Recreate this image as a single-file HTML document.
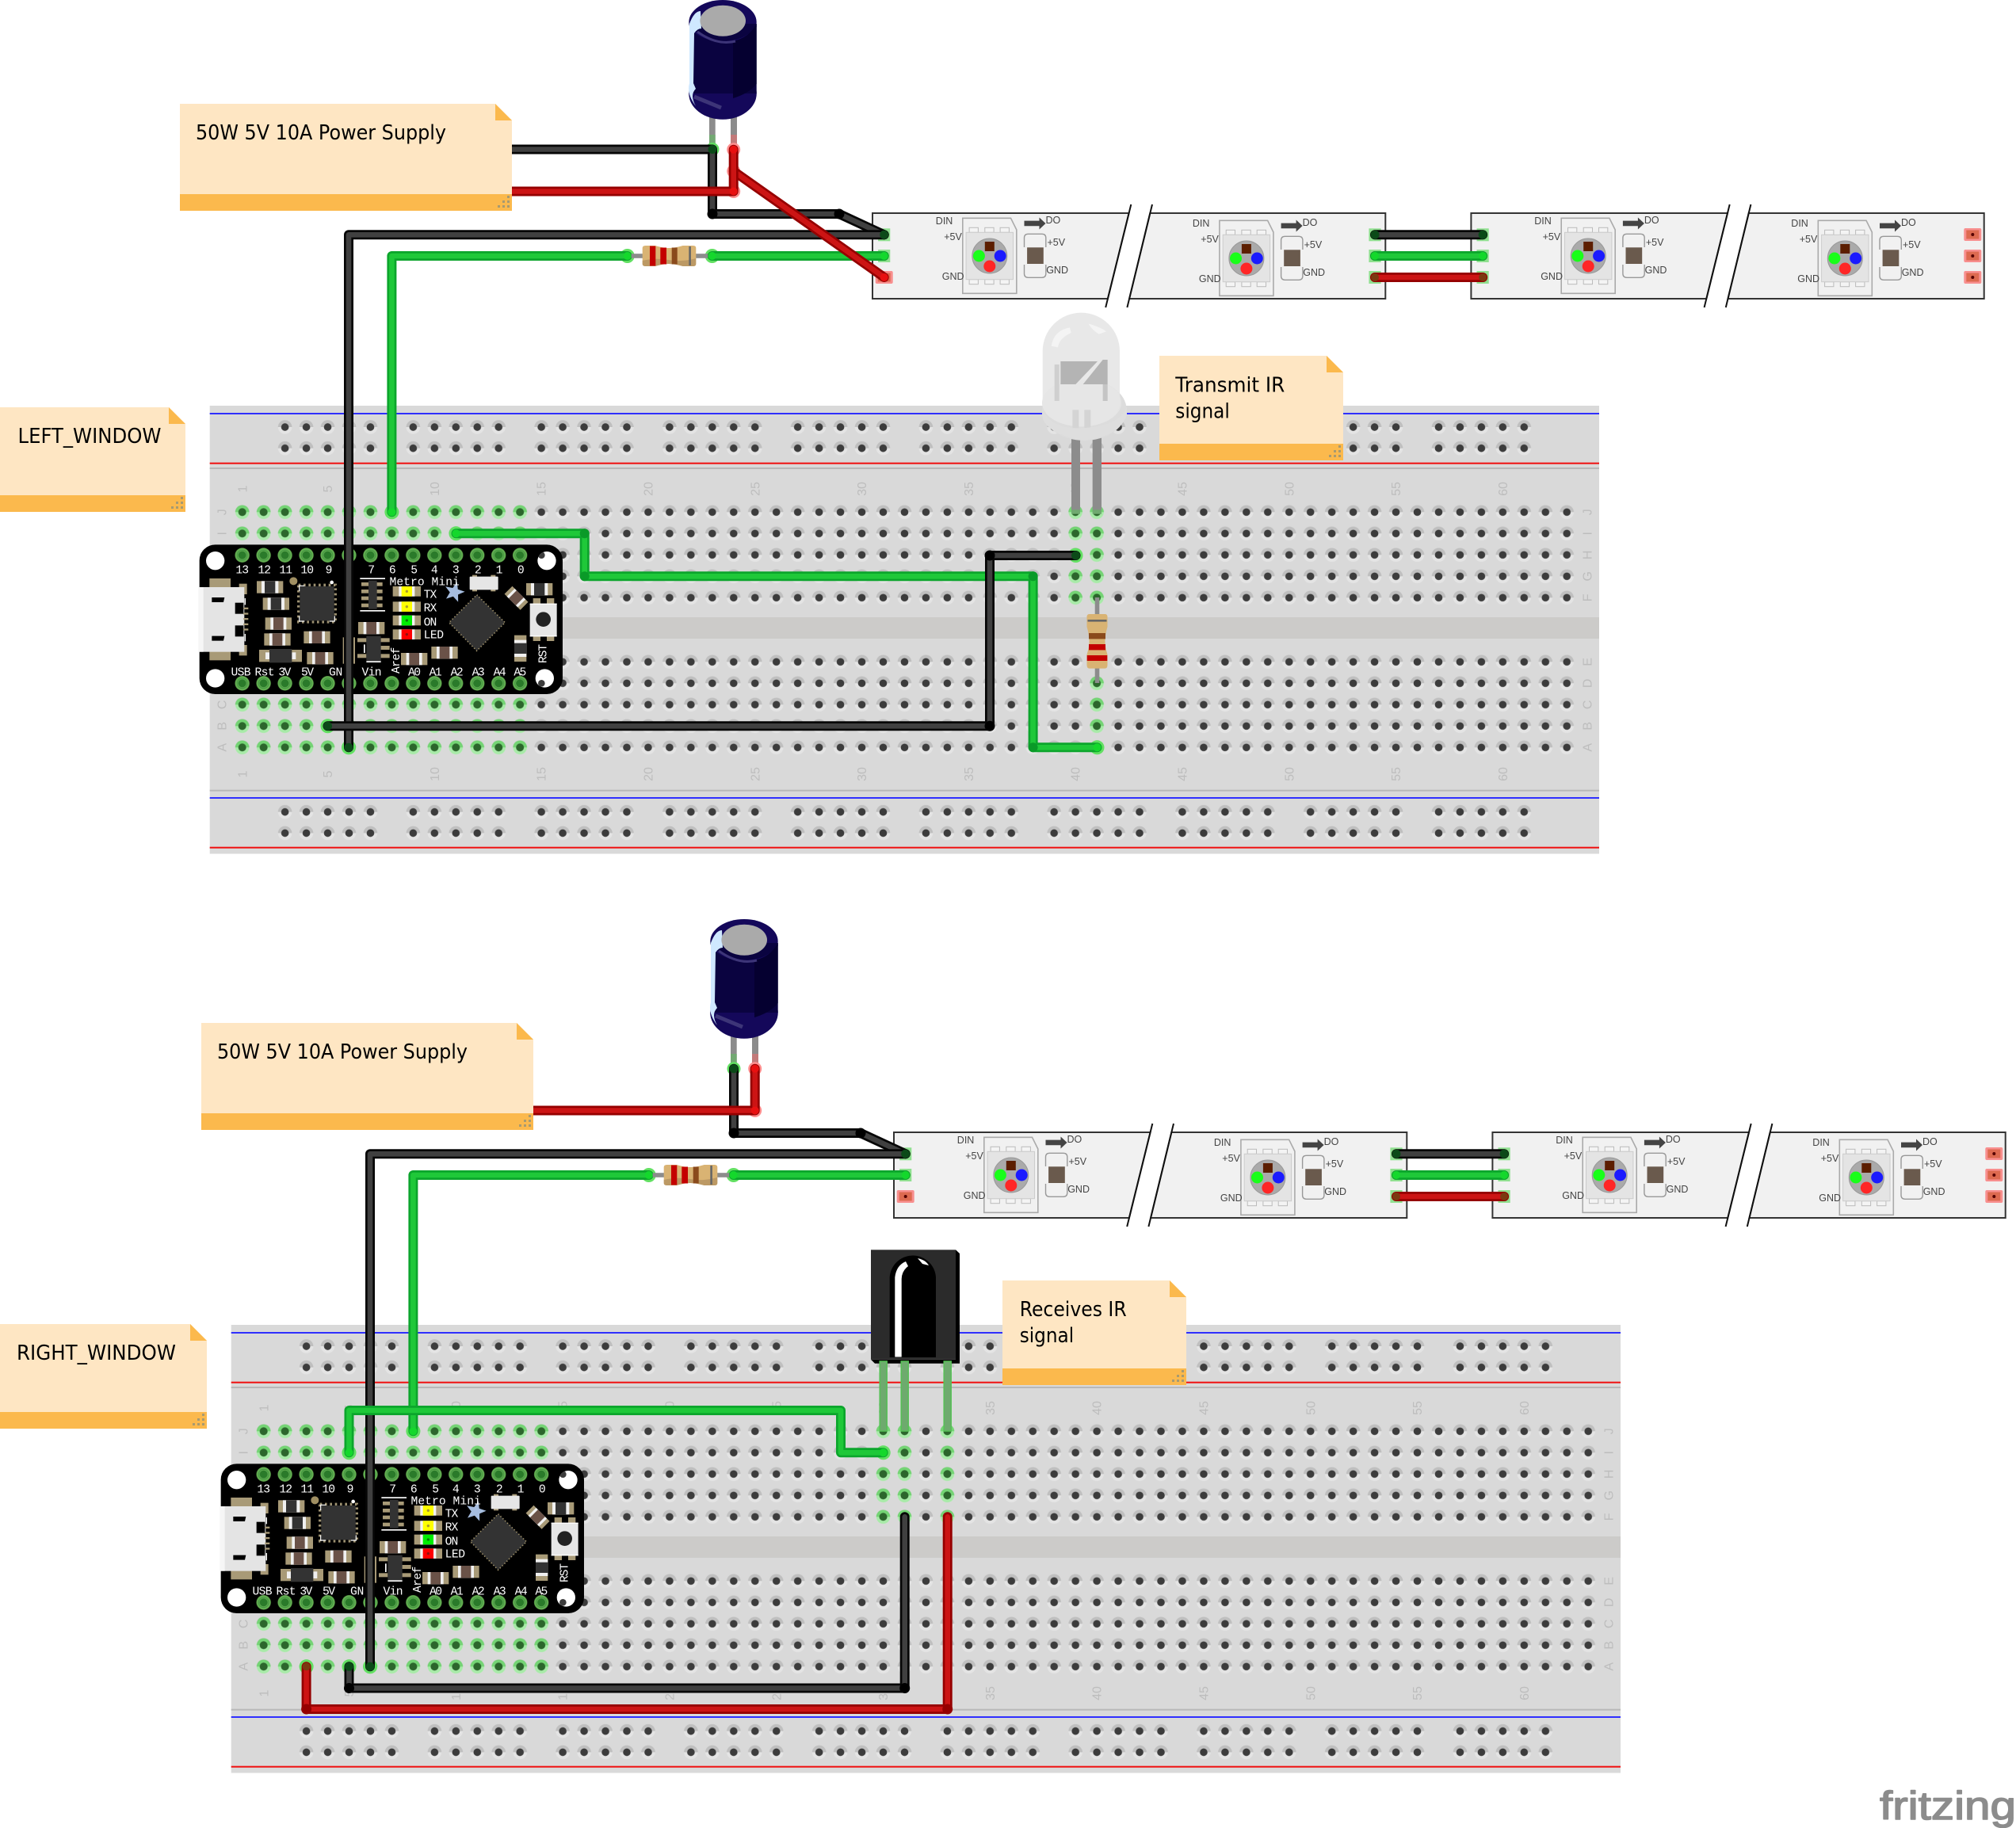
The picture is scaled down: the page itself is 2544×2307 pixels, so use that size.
<!DOCTYPE html>
<html><head><meta charset="utf-8"><title>Fritzing diagram</title>
<style>
html,body{margin:0;padding:0;background:#fff}
svg{display:block}
.w{fill:none;stroke-linejoin:round;stroke-linecap:round}
.ko{stroke:#060606;stroke-width:12}.ki{stroke:#404040;stroke-width:6.6}
.ro{stroke:#950000;stroke-width:12}.ri{stroke:#cc1414;stroke-width:6.6}
.go{stroke:#0ca52c;stroke-width:12}.gi{stroke:#1fc839;stroke-width:6.6}
.n text{font:16px "Liberation Sans",sans-serif;fill:#bdbdbd;text-anchor:middle}
.s text{font:12.5px "Liberation Sans",sans-serif;fill:#444}
.nt{font:26px "DejaVu Sans",sans-serif;fill:#000}
.m text{font:44px "Liberation Mono",monospace;fill:#fff}
</style></head><body>
<svg xmlns="http://www.w3.org/2000/svg" width="2544" height="2307" viewBox="0 0 2544 2307">
<defs>
<linearGradient id="hg" x1="0" y1="0" x2="0" y2="1"><stop offset=".5" stop-color="#bfbfbf"/><stop offset=".5" stop-color="#e4e4e4"/></linearGradient>
<linearGradient id="gg" x1="0" y1="0" x2="0" y2="1"><stop offset=".5" stop-color="#74d474"/><stop offset=".5" stop-color="#a8eaa8"/></linearGradient>
<pattern id="ph" patternUnits="userSpaceOnUse" x="292.22" y="632.8" width="26.96" height="27"><circle cx="13.48" cy="13.5" r="8.8" fill="url(#hg)"/><circle cx="13.48" cy="13.5" r="4.8" fill="#3c3c3c"/></pattern>
<pattern id="pg" patternUnits="userSpaceOnUse" x="292.22" y="632.8" width="26.96" height="27"><circle cx="13.48" cy="13.5" r="8.8" fill="url(#gg)"/><circle cx="13.48" cy="13.5" r="5" fill="#2c662c"/></pattern>
<pattern id="pr" patternUnits="userSpaceOnUse" x="346.14" y="525.65" width="161.76" height="26.7">
<g><circle cx="13.48" cy="13.35" r="8.8" fill="url(#hg)"/><circle cx="13.48" cy="13.35" r="4.8" fill="#3c3c3c"/>
<circle cx="40.44" cy="13.35" r="8.8" fill="url(#hg)"/><circle cx="40.44" cy="13.35" r="4.8" fill="#3c3c3c"/>
<circle cx="67.4" cy="13.35" r="8.8" fill="url(#hg)"/><circle cx="67.4" cy="13.35" r="4.8" fill="#3c3c3c"/>
<circle cx="94.36" cy="13.35" r="8.8" fill="url(#hg)"/><circle cx="94.36" cy="13.35" r="4.8" fill="#3c3c3c"/>
<circle cx="121.32" cy="13.35" r="8.8" fill="url(#hg)"/><circle cx="121.32" cy="13.35" r="4.8" fill="#3c3c3c"/></g></pattern>
<pattern id="pr2" patternUnits="userSpaceOnUse" x="346.14" y="1011.35" width="161.76" height="26.7">
<g><circle cx="13.48" cy="13.35" r="8.8" fill="url(#hg)"/><circle cx="13.48" cy="13.35" r="4.8" fill="#3c3c3c"/>
<circle cx="40.44" cy="13.35" r="8.8" fill="url(#hg)"/><circle cx="40.44" cy="13.35" r="4.8" fill="#3c3c3c"/>
<circle cx="67.4" cy="13.35" r="8.8" fill="url(#hg)"/><circle cx="67.4" cy="13.35" r="4.8" fill="#3c3c3c"/>
<circle cx="94.36" cy="13.35" r="8.8" fill="url(#hg)"/><circle cx="94.36" cy="13.35" r="4.8" fill="#3c3c3c"/>
<circle cx="121.32" cy="13.35" r="8.8" fill="url(#hg)"/><circle cx="121.32" cy="13.35" r="4.8" fill="#3c3c3c"/></g></pattern>
<pattern id="pp" patternUnits="userSpaceOnUse" x="186.56" y="72" width="80.88" height="100"><circle cx="40.44" cy="50" r="27.5" fill="#62ad50"/><circle cx="40.44" cy="50" r="15" fill="#2a7a2a"/><circle cx="40.44" cy="50" r="19" fill="none" stroke="#3f9440" stroke-width="3"/></pattern>
<pattern id="pp2" patternUnits="userSpaceOnUse" x="186.56" y="557" width="80.88" height="100"><circle cx="40.44" cy="50" r="27.5" fill="#62ad50"/><circle cx="40.44" cy="50" r="15" fill="#2a7a2a"/><circle cx="40.44" cy="50" r="19" fill="none" stroke="#3f9440" stroke-width="3"/></pattern>
<clipPath id="c1"><circle cx="1380" cy="143" r="35"/></clipPath>
<clipPath id="c2"><circle cx="1372" cy="588" r="35"/></clipPath>

<g id="board">
<rect x="264.7" y="512" width="1753.3" height="565.5" fill="#d9d9d9"/>
<rect x="264.7" y="521" width="1753.3" height="2" fill="#2f2fff"/>
<rect x="264.7" y="583.7" width="1753.3" height="2" fill="#f01010"/>
<rect x="264.7" y="590" width="1753.3" height="2" fill="#b8b8b8"/>
<rect x="264.7" y="779" width="1753.3" height="27" fill="#cccbc9"/>
<rect x="264.7" y="996.7" width="1753.3" height="2" fill="#b8b8b8"/>
<rect x="264.7" y="1006" width="1753.3" height="2" fill="#2f2fff"/>
<rect x="264.7" y="1068.7" width="1753.3" height="2" fill="#f01010"/>
<rect x="346.14" y="525.65" width="1590" height="53.4" fill="url(#pr)"/>
<rect x="346.14" y="1011.35" width="1590" height="53.4" fill="url(#pr2)"/>
<rect x="292.22" y="632.8" width="1698.48" height="135" fill="url(#ph)"/>
<rect x="292.22" y="821.8" width="1698.48" height="135" fill="url(#ph)"/>
<rect x="292.22" y="632.8" width="377.44" height="54" fill="url(#pg)"/>
<rect x="292.22" y="875.8" width="377.44" height="81" fill="url(#pg)"/>
</g>

<g id="smd"><rect width="100" height="46" fill="#a89a77"/><rect x="20" width="60" height="46" fill="#f0f0f0"/><rect x="31" width="38" height="46" fill="#6a5248"/></g>
<g id="smk"><rect width="100" height="46" fill="#a89a77"/><rect x="18" width="64" height="46" fill="#f0f0f0"/><rect x="30" width="40" height="46" fill="#333"/></g>

<g id="metro">
<rect x="65" y="82" width="1375" height="566" rx="60" fill="#000"/>
<circle cx="125" cy="143" r="35" fill="#fff"/><circle cx="1380" cy="143" r="35" fill="#fff"/><circle cx="125" cy="588" r="35" fill="#fff"/><circle cx="1372" cy="588" r="35" fill="#fff"/>
<circle cx="1360" cy="122" r="13" fill="#3c3c3c" clip-path="url(#c1)"/><circle cx="1360" cy="607" r="13" fill="#3c3c3c" clip-path="url(#c2)"/>
<rect x="186.56" y="72" width="1132.3" height="100" fill="url(#pp)"/>
<rect x="186.56" y="557" width="1132.3" height="100" fill="url(#pp2)"/>
<rect x="103" y="210" width="80" height="36" fill="#a89a77"/><rect x="103" y="485" width="80" height="35" fill="#a89a77"/>
<rect x="215" y="230" width="30" height="40" fill="#a89a77"/><rect x="215" y="462" width="30" height="40" fill="#a89a77"/>
<rect x="62" y="243" width="173" height="245" fill="#e4e4e4"/><rect x="62" y="243" width="18" height="245" fill="#f6f6f6"/>
<path d="M112 282h48l-4 18h-44zM112 428h48l-4 18h-44z" fill="#000"/>
<rect x="200" y="302" width="32" height="42" fill="#000"/><rect x="200" y="388" width="32" height="42" fill="#000"/>
<g fill="#a89a77"><rect x="232" y="320" width="18" height="7"/><rect x="232" y="340" width="18" height="7"/><rect x="232" y="360" width="18" height="7"/><rect x="232" y="380" width="18" height="7"/><rect x="232" y="400" width="18" height="7"/></g>
<rect x="236" y="285" width="4" height="25" fill="#fff"/><rect x="236" y="420" width="4" height="28" fill="#fff"/>
<use href="#smk" x="282" y="220"/><use href="#smk" x="305" y="283"/><use href="#smd" x="314" y="358"/><use href="#smd" x="310" y="418"/><use href="#smd" x="460" y="410"/><use href="#smd" x="472" y="489"/>
<rect x="291" y="480" width="162" height="46" fill="#a89a77"/><rect x="315" y="490" width="15" height="26" fill="#f0f0f0"/><rect x="415" y="490" width="15" height="26" fill="#f0f0f0"/><rect x="330" y="477" width="85" height="52" fill="#333"/>
<circle cx="421" cy="220" r="15" fill="#a08f62"/><circle cx="566" cy="225" r="7" fill="#fff"/>
<rect x="440" y="235" width="140" height="140" fill="none" stroke="#9c9070" stroke-width="10" stroke-dasharray="8 11"/>
<rect x="445" y="240" width="130" height="130" fill="#333"/>
<path d="M443 258v-20h20M577 352v20h-20M443 352v20h20" fill="none" stroke="#fff" stroke-width="3.5"/>
<rect x="608" y="433" width="46" height="100" fill="#a89a77"/>
<g fill="#a89a77"><rect x="678" y="225" width="80" height="14"/><rect x="678" y="252" width="80" height="14"/><rect x="678" y="278" width="80" height="14"/><rect x="678" y="305" width="80" height="14"/></g>
<rect x="705" y="218" width="32" height="108" fill="#333"/>
<rect x="673" y="208" width="95" height="5" fill="#fff"/><rect x="673" y="330" width="95" height="5" fill="#fff"/>
<use href="#smd" x="666" y="375"/>
<g fill="#a89a77"><rect x="663" y="436" width="34" height="15"/><rect x="750" y="436" width="35" height="15"/><rect x="750" y="465" width="35" height="15"/><rect x="750" y="496" width="35" height="15"/><rect x="663" y="496" width="34" height="15"/></g>
<rect x="697" y="428" width="55" height="95" fill="#333"/><rect x="697" y="523" width="55" height="5" fill="#fff"/><rect x="687" y="460" width="5" height="32" fill="#fff"/>
<g><rect x="797" y="240" width="106" height="38" fill="#a89a77"/><rect x="820" y="240" width="60" height="38" fill="#f4f4f4"/><rect x="830" y="240" width="40" height="38" fill="#ff0"/><circle cx="850" cy="259" r="5" fill="#a89a30"/></g>
<g transform="translate(0,58)"><rect x="797" y="240" width="106" height="38" fill="#a89a77"/><rect x="820" y="240" width="60" height="38" fill="#f4f4f4"/><rect x="830" y="240" width="40" height="38" fill="#ff0"/><circle cx="850" cy="259" r="5" fill="#a89a30"/></g>
<g transform="translate(0,110)"><rect x="797" y="240" width="106" height="38" fill="#a89a77"/><rect x="820" y="240" width="60" height="38" fill="#f4f4f4"/><rect x="830" y="240" width="40" height="38" fill="#0e0"/><circle cx="850" cy="259" r="5" fill="#0a7a0a"/></g>
<g transform="translate(0,163)"><rect x="797" y="240" width="106" height="38" fill="#a89a77"/><rect x="820" y="240" width="60" height="38" fill="#f4f4f4"/><rect x="830" y="240" width="40" height="38" fill="#f00"/><circle cx="850" cy="259" r="5" fill="#901010"/></g>
<use href="#smd" x="828" y="492"/><use href="#smd" x="943" y="468"/><use href="#smk" x="1302" y="228"/>
<g transform="translate(1303,425) rotate(90)"><use href="#smk"/></g>
<g transform="translate(1248,252) rotate(45)"><rect x="-8" y="-10" width="85" height="42" fill="#a89a77"/><rect x="5" y="-10" width="58" height="42" fill="#f0f0f0"/><rect x="15" y="-10" width="38" height="42" fill="#6a5248"/></g>
<rect x="1098" y="197" width="18" height="62" fill="#a89a77"/><rect x="1168" y="197" width="18" height="62" fill="#a89a77"/>
<rect x="1088" y="203" width="108" height="50" rx="3" fill="#e6e6e6"/>
<polygon points="1115,272 1222,377 1115,484 1010,377" fill="#333" stroke="#a0926a" stroke-width="5" stroke-dasharray="4 8"/>
<polygon transform="rotate(15 1030 262)" points="1030,222 1040,248 1068,250 1046,267 1053.5,294 1030,279 1006.5,294 1014,267 992,250 1020,248" fill="#a6bddf"/>
<g fill="#a89a77"><rect x="1328" y="285" width="28" height="24"/><rect x="1380" y="285" width="28" height="24"/><rect x="1328" y="425" width="28" height="22"/><rect x="1380" y="425" width="28" height="22"/></g>
<rect x="1316" y="305" width="102" height="125" fill="#e6e6e6"/><rect x="1316" y="305" width="102" height="4" fill="#fff"/><rect x="1316" y="426" width="102" height="4" fill="#fff"/>
<circle cx="1367" cy="365" r="28" fill="#222"/>
</g>

<g id="chip">
<path d="M-34 -47.7H26.7L34 -33V47.3H-34Z" fill="#f1f1f1" stroke="#aaa" stroke-width="1.6"/>
<g fill="#f4f4f4" stroke="#bbb"><rect x="-25.7" y="-35.7" width="11.3" height="6"/><rect x="-6" y="-35.7" width="11.3" height="6"/><rect x="13.3" y="-35.7" width="11.3" height="6"/><rect x="-25.7" y="29.7" width="11.3" height="6"/><rect x="-6" y="29.7" width="11.3" height="6"/><rect x="13.3" y="29.7" width="11.3" height="6"/></g>
<rect x="-29.7" y="-29.7" width="59.4" height="59.4" fill="#e4e4e4" stroke="#ccc"/>
<circle r="22" fill="#aaa" stroke="#999"/>
<circle cx="-13.4" r="7.5" fill="#19ff19"/><circle cx="13.4" r="7.5" fill="#1a1aff"/><circle cy="13" r="7.5" fill="#ff2626"/>
<rect x="-6" y="-18" width="12" height="12" fill="#5c1e00"/>
<path d="M43.7 -44.4H62.7V-48.5L70.7 -41L62.7 -33.5V-37.7H43.7Z" fill="#444"/>
<path d="M43.7 -11V-22.7Q43.7 -27.7 48.7 -27.7H66Q71 -27.7 71 -22.7V-11M43.7 11V22.3Q43.7 27.3 48.7 27.3H66Q71 27.3 71 22.3V11" fill="none" stroke="#999" stroke-width="1.4"/>
<rect x="47.3" y="-10.7" width="20.7" height="20.7" fill="#6a5a4d"/>
</g>

<g id="gpad"><rect x="-7.6" y="-8" width="15.2" height="16" fill="#90e090"/><circle r="6" fill="#7a8050"/></g>
<g id="rpad"><rect x="-11" y="-8" width="22" height="16" fill="#f88f8f" rx="2"/><rect x="-8" y="-5.5" width="16" height="11" fill="#dd6a50"/><circle r="2" fill="#500"/></g>

<g id="seg">
<polygon points="1101,269 1424.6,269 1397.9,377 1101,377" fill="#f1f1f1" stroke="#333" stroke-width="2"/>
<polygon points="1451.3,269 1748.3,269 1748.3,377 1425.1,377" fill="#f1f1f1" stroke="#333" stroke-width="2"/>
<path d="M1427.3 258L1395.2 388M1454 258L1422.4 388" stroke="#111" stroke-width="2" fill="none"/>
<use href="#chip" transform="translate(1248.8,323)"/><use href="#chip" transform="translate(1572.9,326)"/>
</g>

<g id="cap">
<rect x="895" y="140" width="7.7" height="50" fill="#8c8c8c"/><rect x="922" y="140" width="8" height="50" fill="#8c8c8c"/>
<rect x="895" y="170" width="7.7" height="18" fill="#72a872"/><rect x="922" y="170" width="8" height="18" fill="#c27a7a"/>
<ellipse cx="912" cy="118" rx="42.8" ry="32.7" fill="#14085a"/>
<ellipse cx="912" cy="28" rx="42.7" ry="28" fill="#14085a"/>
<rect x="871.5" y="30" width="83.2" height="88" fill="#0a0340"/>
<path d="M871.5 30A42.7 28 0 0 0 954.7 30V34A42.7 24 0 0 1 871.5 34Z" fill="#14085a"/>
<path d="M925 52Q945 48 954.7 30V106Q945 118 925 124Z" fill="#050030"/>
<path d="M876 122Q905 134 910 136" fill="none" stroke="#3d3578" stroke-width="5"/>
<path d="M880 40Q905 58 928 52" fill="none" stroke="#3d3578" stroke-width="3"/>
<path d="M870 30Q876 14 884 14L885 36Q880 36 876 42L875 105L878 112Q870 120 878 134Q866 118 870 105Z" fill="#cfe8ff"/>
<ellipse cx="912.2" cy="26.2" rx="28.8" ry="19.5" fill="#aaa"/>
</g>

<g id="res">
<rect x="0" y="-2.8" width="96.5" height="5.6" fill="#8c8c8c"/>
<path d="M14 -10Q14 -13 18 -13H30Q40 -10 47 -10Q55 -10 65 -13H78Q81.6 -13 81.6 -10V10Q81.6 13 78 13H65Q55 10 47 10Q40 10 30 13H18Q14 13 14 10Z" fill="#d9b373"/>
<path d="M14 6Q30 2 47 5T81.6 3V10Q81.6 13 78 13H65Q55 10 47 10Q40 10 30 13H18Q14 13 14 10Z" fill="#a8875a" opacity=".6"/>
<rect x="23.3" y="-12.5" width="7.3" height="25" fill="#c40000"/>
<rect x="36.6" y="-10.5" width="7.7" height="21" fill="#c40000"/>
<rect x="51" y="-10.5" width="7" height="21" fill="#8a4a1c"/>
<rect x="72.6" y="-12" width="2.6" height="24" fill="#666"/>
</g>
</defs>

<!-- ================= LEFT ================= -->
<use href="#board"/>
<rect x="1343.66" y="632.8" width="53.92" height="135" fill="url(#pg)"/>
<rect x="1370.62" y="821.8" width="26.96" height="135" fill="url(#pg)"/>
<g class="n">
<text transform="translate(311.3,617) rotate(-90)">1</text><text transform="translate(419.1,617) rotate(-90)">5</text><text transform="translate(553.9,617) rotate(-90)">10</text><text transform="translate(688.7,617) rotate(-90)">15</text><text transform="translate(823.5,617) rotate(-90)">20</text><text transform="translate(958.3,617) rotate(-90)">25</text><text transform="translate(1093.1,617) rotate(-90)">30</text><text transform="translate(1227.9,617) rotate(-90)">35</text><text transform="translate(1362.7,617) rotate(-90)">40</text><text transform="translate(1497.5,617) rotate(-90)">45</text><text transform="translate(1632.3,617) rotate(-90)">50</text><text transform="translate(1767.1,617) rotate(-90)">55</text><text transform="translate(1901.9,617) rotate(-90)">60</text>
<text transform="translate(311.3,977) rotate(-90)">1</text><text transform="translate(419.1,977) rotate(-90)">5</text><text transform="translate(553.9,977) rotate(-90)">10</text><text transform="translate(688.7,977) rotate(-90)">15</text><text transform="translate(823.5,977) rotate(-90)">20</text><text transform="translate(958.3,977) rotate(-90)">25</text><text transform="translate(1093.1,977) rotate(-90)">30</text><text transform="translate(1227.9,977) rotate(-90)">35</text><text transform="translate(1362.7,977) rotate(-90)">40</text><text transform="translate(1497.5,977) rotate(-90)">45</text><text transform="translate(1632.3,977) rotate(-90)">50</text><text transform="translate(1767.1,977) rotate(-90)">55</text><text transform="translate(1901.9,977) rotate(-90)">60</text>
<text transform="translate(285.6,646.3) rotate(-90)">J</text><text transform="translate(285.6,673.3) rotate(-90)">I</text><text transform="translate(285.6,700.3) rotate(-90)">H</text><text transform="translate(285.6,727.3) rotate(-90)">G</text><text transform="translate(285.6,754.3) rotate(-90)">F</text><text transform="translate(285.6,835.3) rotate(-90)">E</text><text transform="translate(285.6,862.3) rotate(-90)">D</text><text transform="translate(285.6,889.3) rotate(-90)">C</text><text transform="translate(285.6,916.3) rotate(-90)">B</text><text transform="translate(285.6,943.3) rotate(-90)">A</text>
<text transform="translate(2008.6,646.3) rotate(-90)">J</text><text transform="translate(2008.6,673.3) rotate(-90)">I</text><text transform="translate(2008.6,700.3) rotate(-90)">H</text><text transform="translate(2008.6,727.3) rotate(-90)">G</text><text transform="translate(2008.6,754.3) rotate(-90)">F</text><text transform="translate(2008.6,835.3) rotate(-90)">E</text><text transform="translate(2008.6,862.3) rotate(-90)">D</text><text transform="translate(2008.6,889.3) rotate(-90)">C</text><text transform="translate(2008.6,916.3) rotate(-90)">B</text><text transform="translate(2008.6,943.3) rotate(-90)">A</text>
</g>
<g transform="translate(230,660) scale(.33333)"><use href="#metro"/>
<g class="m" text-anchor="middle">
<text x="227" y="190" textLength="50">13</text><text x="311" y="190" textLength="50">12</text><text x="392" y="190" textLength="50">11</text><text x="473" y="190" textLength="50">10</text><text x="555" y="190">9</text><text x="716" y="190">7</text><text x="796" y="190">6</text><text x="878" y="190">5</text><text x="955" y="190">4</text><text x="1036" y="190">3</text><text x="1120" y="190">2</text><text x="1200" y="190">1</text><text x="1282" y="190">0</text>
<text x="917" y="235" textLength="265">Metro Mini</text><text x="939" y="283" textLength="50">TX</text><text x="939" y="335" textLength="50">RX</text><text x="939" y="388" textLength="50">ON</text><text x="952" y="436" textLength="76">LED</text>
<text x="222" y="578" textLength="75">USB</text><text x="312" y="578" textLength="75">Rst</text><text x="388" y="578" textLength="48">3V</text><text x="474" y="578" textLength="48">5V</text><text x="581" y="578" textLength="52">GN</text><text x="717" y="578" textLength="75">Vin</text>
<text x="879" y="578" textLength="48">A0</text><text x="959" y="578" textLength="48">A1</text><text x="1040" y="578" textLength="48">A2</text><text x="1121" y="578" textLength="48">A3</text><text x="1202" y="578" textLength="48">A4</text><text x="1279" y="578" textLength="48">A5</text>
<text transform="translate(822,520) rotate(-90)" textLength="100">Aref</text><text transform="translate(1378,495) rotate(-90)" textLength="72">RST</text>
</g></g>

<use href="#seg"/><use href="#seg" x="755.4"/>
<g class="s"><g transform="translate(1248.8,323)"><text x="-68" y="-40">DIN</text><text x="-57.6" y="-20">+5V</text><text x="-60" y="30">GND</text><text x="70.7" y="-41">DO</text><text x="72.7" y="-13">+5V</text><text x="71.4" y="22">GND</text></g>
<g transform="translate(1572.9,326)"><text x="-68" y="-40">DIN</text><text x="-57.6" y="-20">+5V</text><text x="-60" y="30">GND</text><text x="70.7" y="-41">DO</text><text x="72.7" y="-13">+5V</text><text x="71.4" y="22">GND</text></g>
<g transform="translate(2004.2,323)"><text x="-68" y="-40">DIN</text><text x="-57.6" y="-20">+5V</text><text x="-60" y="30">GND</text><text x="70.7" y="-41">DO</text><text x="72.7" y="-13">+5V</text><text x="71.4" y="22">GND</text></g>
<g transform="translate(2328.3,326)"><text x="-68" y="-40">DIN</text><text x="-57.6" y="-20">+5V</text><text x="-60" y="30">GND</text><text x="70.7" y="-41">DO</text><text x="72.7" y="-13">+5V</text><text x="71.4" y="22">GND</text></g></g>
<use href="#gpad" x="1115.7" y="296.3"/><use href="#gpad" x="1115.7" y="323"/><use href="#rpad" x="1115.7" y="350"/>
<use href="#gpad" x="1735" y="296.3"/><use href="#gpad" x="1735" y="323"/><use href="#gpad" x="1735" y="350"/>
<use href="#gpad" x="1871.1" y="296.3"/><use href="#gpad" x="1871.1" y="323"/><use href="#gpad" x="1871.1" y="350"/>
<use href="#rpad" x="2489.3" y="296"/><use href="#rpad" x="2489.3" y="323"/><use href="#rpad" x="2489.3" y="350"/>

<use href="#cap"/>
<!-- halos left -->
<g fill="#62e062"><circle cx="899" cy="188.5" r="8.5"/><circle cx="791.7" cy="323" r="9"/><circle cx="898.7" cy="323" r="9"/><circle cx="494.4" cy="646.3" r="9"/><circle cx="575.5" cy="673.3" r="9"/><circle cx="1384.5" cy="943.3" r="9"/><circle cx="440" cy="943.3" r="9"/><circle cx="413.5" cy="916.3" r="9"/><circle cx="1357.5" cy="701" r="9"/></g>
<g fill="#ff8f8f"><circle cx="925.7" cy="188.7" r="8.5"/><circle cx="925.7" cy="216" r="8.5"/><circle cx="925.7" cy="241.5" r="8.5"/></g>
<!-- wires left -->
<path class="w ko" d="M646 188.5H899V270H1059L1115.7 296.3"/><path class="w ki" d="M646 188.5H899V270H1059L1115.7 296.3"/>
<path class="w ko" d="M1115.7 296.3H440V943.3"/><path class="w ki" d="M1115.7 296.3H440V943.3"/>
<path class="w go" d="M1115.7 323H898.7"/><path class="w gi" d="M1115.7 323H898.7"/>
<path class="w go" d="M791.7 323H494.4V646.3"/><path class="w gi" d="M791.7 323H494.4V646.3"/>
<path class="w ro" d="M925.7 216L1115.7 350"/><path class="w ri" d="M925.7 216L1115.7 350"/>
<path class="w ro" d="M646 241.5H925.7V188.7"/><path class="w ri" d="M646 241.5H925.7V188.7"/>
<path class="w go" d="M575.5 673.3H737.7V727.3H1303.6V943.3H1384.5"/><path class="w gi" d="M575.5 673.3H737.7V727.3H1303.6V943.3H1384.5"/>
<path class="w ko" d="M413.5 916.3H1249V701H1357.5"/><path class="w ki" d="M413.5 916.3H1249V701H1357.5"/>
<path class="w ko" d="M1735 296.3H1871.1"/><path class="w ki" d="M1735 296.3H1871.1"/>
<path class="w go" d="M1735 323H1871.1"/><path class="w gi" d="M1735 323H1871.1"/>
<path class="w ro" d="M1735 350H1871.1"/><path class="w ri" d="M1735 350H1871.1"/>
<!-- joints & ends left -->
<g fill="#000"><circle cx="899" cy="270" r="6.5"/><circle cx="1059" cy="270" r="6.5"/><circle cx="1249" cy="701" r="6.5"/><circle cx="1249" cy="916.3" r="6.5"/></g>
<g fill="#0a9a28"><circle cx="737.7" cy="673.3" r="6"/><circle cx="737.7" cy="727.3" r="6"/><circle cx="1303.6" cy="727.3" r="6"/><circle cx="1303.6" cy="943.3" r="6"/></g>
<g fill="#14d82c"><circle cx="494.4" cy="646.3" r="5"/><circle cx="575.5" cy="673.3" r="5"/><circle cx="1384.5" cy="943.3" r="5"/><circle cx="791.7" cy="323" r="5"/><circle cx="898.7" cy="323" r="5"/><circle cx="1115.7" cy="323" r="5"/><circle cx="1735" cy="323" r="5"/><circle cx="1871.1" cy="323" r="5"/></g>
<g fill="#0b4a18"><circle cx="899" cy="188.5" r="5.5"/><circle cx="440" cy="943.3" r="5.5"/><circle cx="413.5" cy="916.3" r="5.5"/><circle cx="1357.5" cy="701" r="5.5"/><circle cx="1115.7" cy="296.3" r="5.5"/><circle cx="1735" cy="296.3" r="5.5"/><circle cx="1871.1" cy="296.3" r="5.5"/></g>
<g fill="#e81010"><circle cx="925.7" cy="188.7" r="5"/><circle cx="925.7" cy="241.5" r="5"/><circle cx="1115.7" cy="350" r="5"/></g>
<g fill="#7a3a10"><circle cx="1735" cy="350" r="5"/><circle cx="1871.1" cy="350" r="5"/></g>
<use href="#res" x="796.7" y="323"/>
<!-- vertical resistor -->
<g transform="translate(1384.5,754) rotate(90)"><rect x="0" y="-2.8" width="108" height="5.6" fill="#8c8c8c"/><path d="M21 -10Q21 -13 25 -13H37Q47 -10 55 -10Q63 -10 72 -13H85Q89.6 -13 89.6 -10V10Q89.6 13 85 13H72Q63 10 55 10Q47 10 37 13H25Q21 13 21 10Z" fill="#d9b373"/><rect x="28" y="-12" width="2.6" height="24" fill="#666"/><rect x="45" y="-10.5" width="7.4" height="21" fill="#8a4a1c"/><rect x="59" y="-10.5" width="7.4" height="21" fill="#c40000"/><rect x="73" y="-12.8" width="7" height="25.6" fill="#c40000"/></g>
<!-- LED -->
<g transform="translate(1270,380) scale(.33333)">
<rect x="246" y="500" width="33" height="300" fill="#8c8c8c"/><rect x="326" y="500" width="34" height="300" fill="#8c8c8c"/>
<rect x="246" y="790" width="33" height="16" fill="#70aa70"/><rect x="326" y="790" width="34" height="16" fill="#70aa70"/>
<ellipse cx="295" cy="412" rx="160" ry="116" fill="#dcdcdc"/>
<ellipse cx="285" cy="385" rx="150" ry="90" fill="#e4e4e4"/>
<path d="M137 390V190A146 146 0 0 1 429 190V390A146 85 0 0 1 137 390Z" fill="#e6e6e6" opacity=".9"/>
<path d="M205 228H345L262 315H205ZM383 222V315H290L365 222Z" fill="#b4b4b4"/>
<rect x="182" y="240" width="18" height="138" fill="#cfcfcf"/><rect x="365" y="315" width="18" height="63" fill="#c4c4c4"/>
<path d="M170 170Q180 110 240 100L245 120Q200 140 195 175ZM310 85Q360 100 378 115L350 125Q325 110 310 85Z" fill="#f4f4f4"/>
<rect x="250" y="412" width="24" height="70" fill="#d4d4d4"/><rect x="295" y="412" width="24" height="70" fill="#d4d4d4"/>
<path d="M135 430Q140 500 295 528Q430 510 456 430V400Q430 470 300 480Q160 490 135 400Z" fill="#dedede"/>
</g>
<!-- notes left -->
<g><path d="M227 131H625L646 152V266H227Z" fill="#fee6c3"/><rect x="227" y="245" width="419" height="21" fill="#fbb94d"/><path d="M625 131L646 152H625Z" fill="#fbb94d"/><path d="M634 262h3v-3h-3zM628 262h3v-3h-3zM640 262h3v-3h-3zM640 256h3v-3h-3zM634 256h3v-3h-3zM640 250h3v-3h-3z" fill="#a89a70"/>
<text class="nt" x="247" y="176" textLength="316" lengthAdjust="spacingAndGlyphs">50W 5V 10A Power Supply</text></g>
<g><path d="M0 514H213L234 535V646H0Z" fill="#fee6c3"/><rect x="0" y="625" width="234" height="21" fill="#fbb94d"/><path d="M213 514L234 535H213Z" fill="#fbb94d"/><path d="M222 642h3v-3h-3zM216 642h3v-3h-3zM228 642h3v-3h-3zM228 636h3v-3h-3zM222 636h3v-3h-3zM228 630h3v-3h-3z" fill="#a89a70"/>
<text class="nt" x="22.5" y="559" textLength="181" lengthAdjust="spacingAndGlyphs">LEFT_WINDOW</text></g>
<g><path d="M1463 449H1674L1695 470V581H1463Z" fill="#fee6c3"/><rect x="1463" y="560" width="232" height="21" fill="#fbb94d"/><path d="M1674 449L1695 470H1674Z" fill="#fbb94d"/><path d="M1683 577h3v-3h-3zM1677 577h3v-3h-3zM1689 577h3v-3h-3zM1689 571h3v-3h-3zM1683 571h3v-3h-3zM1689 565h3v-3h-3z" fill="#a89a70"/>
<text class="nt" x="1483.3" y="494.3" textLength="138" lengthAdjust="spacingAndGlyphs">Transmit IR</text><text class="nt" x="1483.3" y="527.3" textLength="68.5" lengthAdjust="spacingAndGlyphs">signal</text></g>

<!-- ================= RIGHT ================= -->
<g transform="translate(27,1160)">
<use href="#board"/>
<rect x="1074.06" y="632.8" width="53.92" height="135" fill="url(#pg)"/>
<rect x="1154.94" y="632.8" width="26.96" height="135" fill="url(#pg)"/>
<g class="n">
<text transform="translate(311.3,617) rotate(-90)">1</text><text transform="translate(419.1,617) rotate(-90)">5</text><text transform="translate(553.9,617) rotate(-90)">10</text><text transform="translate(688.7,617) rotate(-90)">15</text><text transform="translate(823.5,617) rotate(-90)">20</text><text transform="translate(958.3,617) rotate(-90)">25</text><text transform="translate(1093.1,617) rotate(-90)">30</text><text transform="translate(1227.9,617) rotate(-90)">35</text><text transform="translate(1362.7,617) rotate(-90)">40</text><text transform="translate(1497.5,617) rotate(-90)">45</text><text transform="translate(1632.3,617) rotate(-90)">50</text><text transform="translate(1767.1,617) rotate(-90)">55</text><text transform="translate(1901.9,617) rotate(-90)">60</text>
<text transform="translate(311.3,977) rotate(-90)">1</text><text transform="translate(419.1,977) rotate(-90)">5</text><text transform="translate(553.9,977) rotate(-90)">10</text><text transform="translate(688.7,977) rotate(-90)">15</text><text transform="translate(823.5,977) rotate(-90)">20</text><text transform="translate(958.3,977) rotate(-90)">25</text><text transform="translate(1093.1,977) rotate(-90)">30</text><text transform="translate(1227.9,977) rotate(-90)">35</text><text transform="translate(1362.7,977) rotate(-90)">40</text><text transform="translate(1497.5,977) rotate(-90)">45</text><text transform="translate(1632.3,977) rotate(-90)">50</text><text transform="translate(1767.1,977) rotate(-90)">55</text><text transform="translate(1901.9,977) rotate(-90)">60</text>
<text transform="translate(285.6,646.3) rotate(-90)">J</text><text transform="translate(285.6,673.3) rotate(-90)">I</text><text transform="translate(285.6,700.3) rotate(-90)">H</text><text transform="translate(285.6,727.3) rotate(-90)">G</text><text transform="translate(285.6,754.3) rotate(-90)">F</text><text transform="translate(285.6,835.3) rotate(-90)">E</text><text transform="translate(285.6,862.3) rotate(-90)">D</text><text transform="translate(285.6,889.3) rotate(-90)">C</text><text transform="translate(285.6,916.3) rotate(-90)">B</text><text transform="translate(285.6,943.3) rotate(-90)">A</text>
<text transform="translate(2008.6,646.3) rotate(-90)">J</text><text transform="translate(2008.6,673.3) rotate(-90)">I</text><text transform="translate(2008.6,700.3) rotate(-90)">H</text><text transform="translate(2008.6,727.3) rotate(-90)">G</text><text transform="translate(2008.6,754.3) rotate(-90)">F</text><text transform="translate(2008.6,835.3) rotate(-90)">E</text><text transform="translate(2008.6,862.3) rotate(-90)">D</text><text transform="translate(2008.6,889.3) rotate(-90)">C</text><text transform="translate(2008.6,916.3) rotate(-90)">B</text><text transform="translate(2008.6,943.3) rotate(-90)">A</text>
</g>
<g transform="translate(230,660) scale(.33333)"><use href="#metro"/>
<g class="m" text-anchor="middle">
<text x="227" y="190" textLength="50">13</text><text x="311" y="190" textLength="50">12</text><text x="392" y="190" textLength="50">11</text><text x="473" y="190" textLength="50">10</text><text x="555" y="190">9</text><text x="716" y="190">7</text><text x="796" y="190">6</text><text x="878" y="190">5</text><text x="955" y="190">4</text><text x="1036" y="190">3</text><text x="1120" y="190">2</text><text x="1200" y="190">1</text><text x="1282" y="190">0</text>
<text x="917" y="235" textLength="265">Metro Mini</text><text x="939" y="283" textLength="50">TX</text><text x="939" y="335" textLength="50">RX</text><text x="939" y="388" textLength="50">ON</text><text x="952" y="436" textLength="76">LED</text>
<text x="222" y="578" textLength="75">USB</text><text x="312" y="578" textLength="75">Rst</text><text x="388" y="578" textLength="48">3V</text><text x="474" y="578" textLength="48">5V</text><text x="581" y="578" textLength="52">GN</text><text x="717" y="578" textLength="75">Vin</text>
<text x="879" y="578" textLength="48">A0</text><text x="959" y="578" textLength="48">A1</text><text x="1040" y="578" textLength="48">A2</text><text x="1121" y="578" textLength="48">A3</text><text x="1202" y="578" textLength="48">A4</text><text x="1279" y="578" textLength="48">A5</text>
<text transform="translate(822,520) rotate(-90)" textLength="100">Aref</text><text transform="translate(1378,495) rotate(-90)" textLength="72">RST</text>
</g></g>
<use href="#seg"/><use href="#seg" x="755.4"/>
<g class="s"><g transform="translate(1248.8,323)"><text x="-68" y="-40">DIN</text><text x="-57.6" y="-20">+5V</text><text x="-60" y="30">GND</text><text x="70.7" y="-41">DO</text><text x="72.7" y="-13">+5V</text><text x="71.4" y="22">GND</text></g>
<g transform="translate(1572.9,326)"><text x="-68" y="-40">DIN</text><text x="-57.6" y="-20">+5V</text><text x="-60" y="30">GND</text><text x="70.7" y="-41">DO</text><text x="72.7" y="-13">+5V</text><text x="71.4" y="22">GND</text></g>
<g transform="translate(2004.2,323)"><text x="-68" y="-40">DIN</text><text x="-57.6" y="-20">+5V</text><text x="-60" y="30">GND</text><text x="70.7" y="-41">DO</text><text x="72.7" y="-13">+5V</text><text x="71.4" y="22">GND</text></g>
<g transform="translate(2328.3,326)"><text x="-68" y="-40">DIN</text><text x="-57.6" y="-20">+5V</text><text x="-60" y="30">GND</text><text x="70.7" y="-41">DO</text><text x="72.7" y="-13">+5V</text><text x="71.4" y="22">GND</text></g></g>
<use href="#gpad" x="1115.7" y="296.3"/><use href="#gpad" x="1115.7" y="323"/><use href="#rpad" x="1115.7" y="350"/>
<use href="#gpad" x="1735" y="296.3"/><use href="#gpad" x="1735" y="323"/><use href="#gpad" x="1735" y="350"/>
<use href="#gpad" x="1871.1" y="296.3"/><use href="#gpad" x="1871.1" y="323"/><use href="#gpad" x="1871.1" y="350"/>
<use href="#rpad" x="2489.3" y="296"/><use href="#rpad" x="2489.3" y="323"/><use href="#rpad" x="2489.3" y="350"/>
<use href="#cap"/>
</g>
<!-- halos right -->
<g fill="#62e062"><circle cx="926" cy="1348.7" r="8.5"/><circle cx="818.7" cy="1483" r="9"/><circle cx="925.7" cy="1483" r="9"/><circle cx="521.4" cy="1806.3" r="9"/><circle cx="440.5" cy="1833.3" r="9"/><circle cx="1114.7" cy="1833.3" r="9"/><circle cx="467" cy="2103.3" r="9"/><circle cx="440.5" cy="2103.3" r="9"/><circle cx="386.6" cy="2103.3" r="9"/></g>
<g fill="#ff8f8f"><circle cx="952.7" cy="1348.7" r="8.5"/><circle cx="952.7" cy="1401.5" r="8.5"/></g>
<!-- wires right -->
<path class="w ko" d="M926 1348.7V1430H1086L1142.7 1456.3"/><path class="w ki" d="M926 1348.7V1430H1086L1142.7 1456.3"/>
<path class="w ko" d="M1142.7 1456.3H467V2103.3"/><path class="w ki" d="M1142.7 1456.3H467V2103.3"/>
<path class="w ro" d="M673 1401.5H952.7V1348.7"/><path class="w ri" d="M673 1401.5H952.7V1348.7"/>
<path class="w go" d="M1142.7 1483H925.7"/><path class="w gi" d="M1142.7 1483H925.7"/>
<path class="w go" d="M818.7 1483H521.4V1806.3"/><path class="w gi" d="M818.7 1483H521.4V1806.3"/>
<path class="w go" d="M1114.7 1833.3H1061V1780H440.5V1833.3"/><path class="w gi" d="M1114.7 1833.3H1061V1780H440.5V1833.3"/>
<path class="w ko" d="M1141.7 1914.3V2130.5H440.5V2103.3"/><path class="w ki" d="M1141.7 1914.3V2130.5H440.5V2103.3"/>
<path class="w ro" d="M1195.7 1914.3V2157H386.6V2103.3"/><path class="w ri" d="M1195.7 1914.3V2157H386.6V2103.3"/>
<path class="w ko" d="M1762 1456.3H1898.1"/><path class="w ki" d="M1762 1456.3H1898.1"/>
<path class="w go" d="M1762 1483H1898.1"/><path class="w gi" d="M1762 1483H1898.1"/>
<path class="w ro" d="M1762 1510H1898.1"/><path class="w ri" d="M1762 1510H1898.1"/>
<!-- joints & ends right -->
<g fill="#000"><circle cx="926" cy="1430" r="6.5"/><circle cx="1086" cy="1430" r="6.5"/><circle cx="440.5" cy="2130.5" r="6.5"/><circle cx="1141.7" cy="2130.5" r="6.5"/></g>
<g fill="#14d82c"><circle cx="521.4" cy="1806.3" r="5"/><circle cx="440.5" cy="1833.3" r="5"/><circle cx="1114.7" cy="1833.3" r="5"/><circle cx="818.7" cy="1483" r="5"/><circle cx="925.7" cy="1483" r="5"/><circle cx="1142.7" cy="1483" r="5"/><circle cx="1762" cy="1483" r="5"/><circle cx="1898.1" cy="1483" r="5"/></g>
<g fill="#0b4a18"><circle cx="926" cy="1348.7" r="5.5"/><circle cx="467" cy="2103.3" r="5.5"/><circle cx="440.5" cy="2103.3" r="5.5"/><circle cx="1142.7" cy="1456.3" r="5.5"/><circle cx="1762" cy="1456.3" r="5.5"/><circle cx="1898.1" cy="1456.3" r="5.5"/></g>
<g fill="#e81010"><circle cx="952.7" cy="1348.7" r="5"/><circle cx="952.7" cy="1401.5" r="5"/></g>
<g fill="#7a3a10"><circle cx="1762" cy="1510" r="5"/><circle cx="1898.1" cy="1510" r="5"/><circle cx="386.6" cy="2103.3" r="5"/></g>
<g fill="#950000"><circle cx="386.6" cy="2157" r="6.5"/><circle cx="1195.7" cy="2157" r="6.5"/></g>
<use href="#res" x="823.7" y="1483"/>
<!-- IR sensor -->
<g><path d="M1206 1577.3L1211 1582V1720.7H1104L1099 1715.7H1206Z" fill="#000"/><rect x="1099" y="1577.3" width="107" height="138.4" fill="#2b2b2b"/>
<path d="M1122.7 1713V1612A29.2 29.2 0 0 1 1181 1612V1713Z" fill="#000"/>
<path d="M1129.3 1712.5V1612Q1131 1597 1143 1592L1146 1598Q1138 1604 1137.7 1614V1712.5Z" fill="#fff"/><path d="M1158 1588Q1168 1590 1172 1597L1164 1595Z" fill="#fff"/>
<g fill="#6eaa6e" stroke="#55c055" stroke-width="1.5"><rect x="1110.2" y="1718" width="9" height="88"/><rect x="1137.2" y="1718" width="9" height="88"/><rect x="1191.2" y="1718" width="9" height="88"/></g></g>
<!-- notes right -->
<g><path d="M254 1291H652L673 1312V1426H254Z" fill="#fee6c3"/><rect x="254" y="1405" width="419" height="21" fill="#fbb94d"/><path d="M652 1291L673 1312H652Z" fill="#fbb94d"/><path d="M661 1422h3v-3h-3zM655 1422h3v-3h-3zM667 1422h3v-3h-3zM667 1416h3v-3h-3zM661 1416h3v-3h-3zM667 1410h3v-3h-3z" fill="#a89a70"/>
<text class="nt" x="274" y="1336" textLength="316" lengthAdjust="spacingAndGlyphs">50W 5V 10A Power Supply</text></g>
<g><path d="M0 1671H240L261 1692V1803H0Z" fill="#fee6c3"/><rect x="0" y="1782" width="261" height="21" fill="#fbb94d"/><path d="M240 1671L261 1692H240Z" fill="#fbb94d"/><path d="M249 1799h3v-3h-3zM243 1799h3v-3h-3zM255 1799h3v-3h-3zM255 1793h3v-3h-3zM249 1793h3v-3h-3zM255 1787h3v-3h-3z" fill="#a89a70"/>
<text class="nt" x="21" y="1716" textLength="201" lengthAdjust="spacingAndGlyphs">RIGHT_WINDOW</text></g>
<g><path d="M1265 1616H1476L1497 1637V1748H1265Z" fill="#fee6c3"/><rect x="1265" y="1727" width="232" height="21" fill="#fbb94d"/><path d="M1476 1616L1497 1637H1476Z" fill="#fbb94d"/><path d="M1485 1744h3v-3h-3zM1479 1744h3v-3h-3zM1491 1744h3v-3h-3zM1491 1738h3v-3h-3zM1485 1738h3v-3h-3zM1491 1732h3v-3h-3z" fill="#a89a70"/>
<text class="nt" x="1286.7" y="1661" textLength="135" lengthAdjust="spacingAndGlyphs">Receives IR</text><text class="nt" x="1286.7" y="1694" textLength="68.5" lengthAdjust="spacingAndGlyphs">signal</text></g>
<text x="2372" y="2296" font-family="Liberation Sans, sans-serif" font-size="50" fill="#8c8c8c" stroke="#8c8c8c" stroke-width="1.5" stroke-linejoin="round" textLength="172" lengthAdjust="spacingAndGlyphs">fritzing</text>
</svg>
</body></html>
